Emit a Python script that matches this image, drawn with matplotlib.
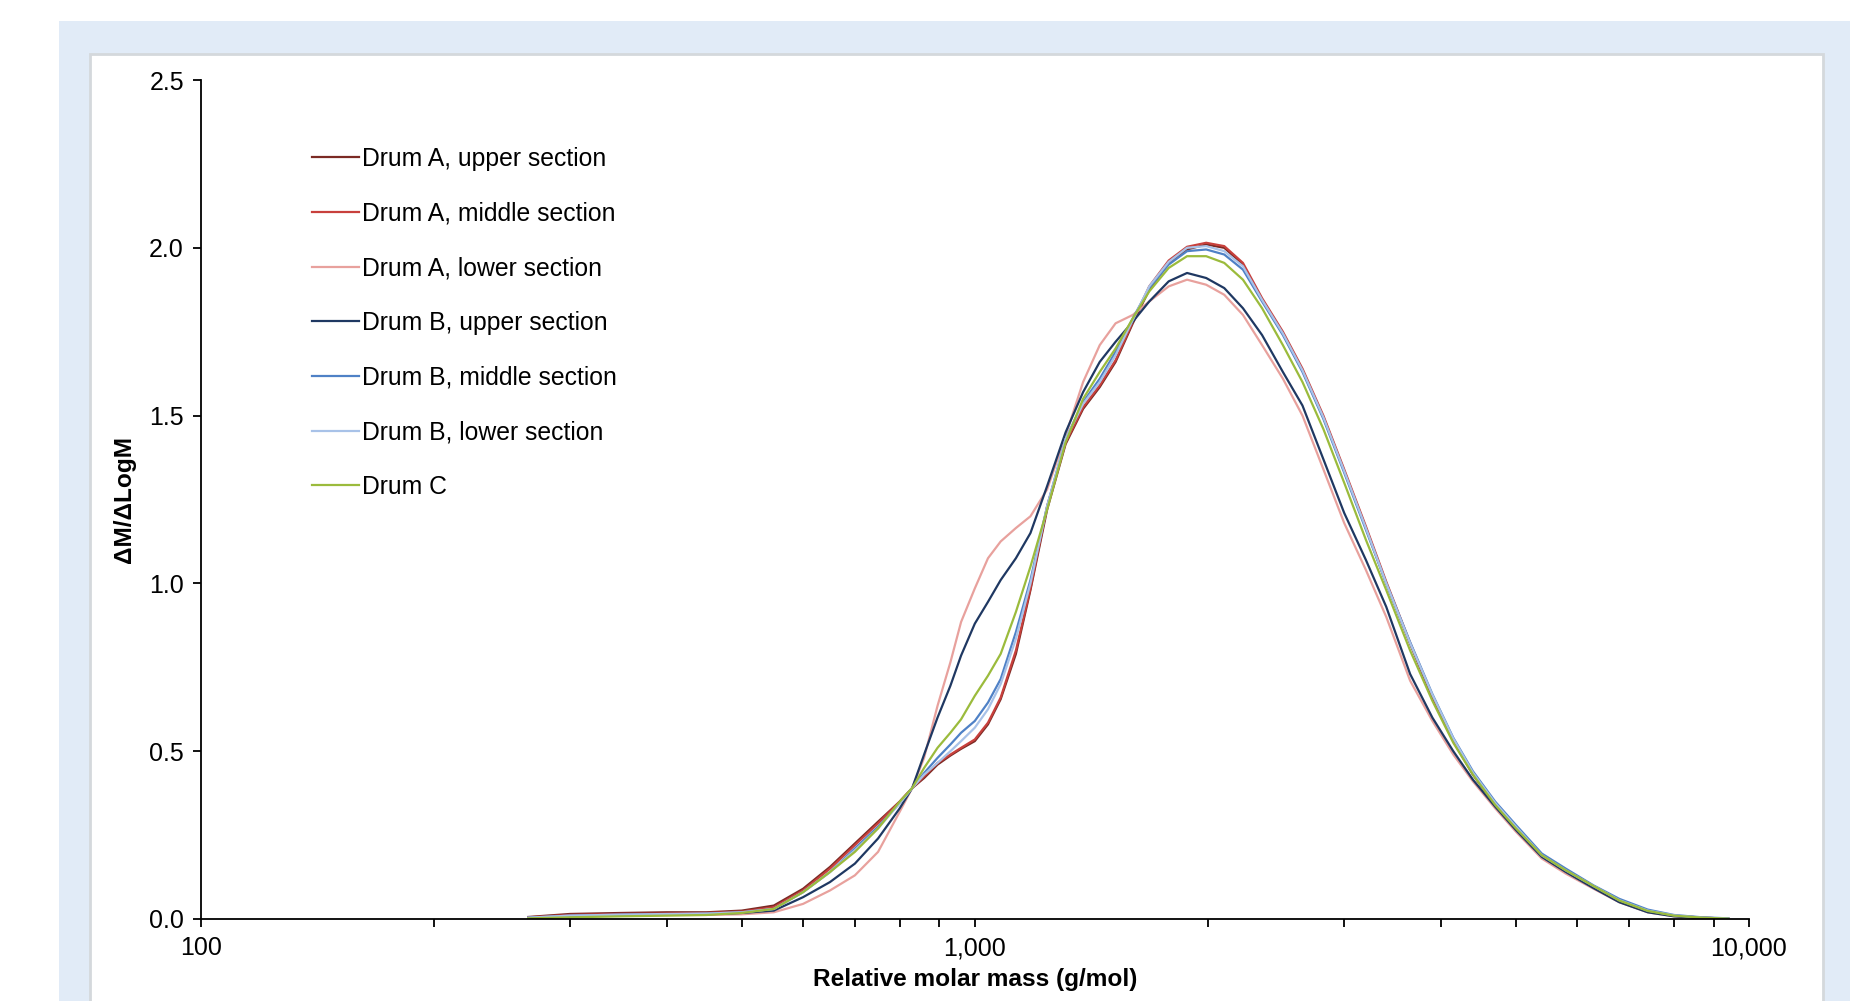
import matplotlib
matplotlib.use("Agg")
import matplotlib.pyplot as plt
from matplotlib.patches import Rectangle
from matplotlib.ticker import FixedLocator, NullFormatter

plt.rcParams['font.family'] = ['Liberation Sans', 'DejaVu Sans']

# -----------------------------
# Data
# -----------------------------
molar_mass = [265, 300, 350, 400, 450, 500, 550, 600, 650, 700,
              750, 800, 830, 860, 895, 930, 960, 1000, 1040, 1080,
              1130, 1180, 1240, 1310, 1380, 1450, 1520, 1600, 1680, 1780,
              1880, 1990, 2100, 2220, 2350, 2500, 2650, 2820, 3000, 3200,
              3400, 3650, 3900, 4150, 4400, 4700, 5000, 5400, 5800, 6300,
              6800, 7400, 8000, 8700, 9400]

drum_a_upper = [0.006, 0.015, 0.018, 0.020, 0.020, 0.025, 0.040, 0.090, 0.155, 0.225,
                0.290, 0.350, 0.390, 0.420, 0.460, 0.487, 0.507, 0.530, 0.580, 0.655,
                0.790, 0.980, 1.220, 1.415, 1.520, 1.585, 1.660, 1.775, 1.875, 1.955,
                1.995, 2.010, 2.000, 1.950, 1.845, 1.745, 1.635, 1.495, 1.335, 1.165,
                1.000, 0.820, 0.660, 0.530, 0.430, 0.340, 0.268, 0.183, 0.140, 0.095,
                0.052, 0.023, 0.010, 0.004, 0.001]

drum_a_middle = [0.005, 0.012, 0.015, 0.016, 0.018, 0.022, 0.035, 0.085, 0.150, 0.220,
                 0.285, 0.350, 0.390, 0.425, 0.465, 0.490, 0.510, 0.535, 0.585, 0.660,
                 0.800, 0.985, 1.230, 1.420, 1.525, 1.590, 1.665, 1.780, 1.885, 1.962,
                 2.003, 2.015, 2.005, 1.955, 1.850, 1.750, 1.640, 1.500, 1.340, 1.170,
                 1.005, 0.823, 0.665, 0.535, 0.432, 0.342, 0.270, 0.185, 0.140, 0.095,
                 0.052, 0.023, 0.010, 0.004, 0.001]

drum_a_lower = [0.003, 0.008, 0.010, 0.012, 0.012, 0.014, 0.020, 0.045, 0.085, 0.130,
                0.200, 0.320, 0.390, 0.480, 0.635, 0.765, 0.885, 0.985, 1.075, 1.125,
                1.165, 1.200, 1.280, 1.440, 1.600, 1.710, 1.775, 1.800, 1.840, 1.885,
                1.905, 1.890, 1.860, 1.800, 1.710, 1.610, 1.500, 1.340, 1.180, 1.040,
                0.900, 0.710, 0.590, 0.490, 0.410, 0.330, 0.260, 0.180, 0.135, 0.090,
                0.050, 0.020, 0.008, 0.003, 0.001]

drum_b_upper = [0.003, 0.008, 0.012, 0.013, 0.014, 0.018, 0.025, 0.065, 0.110, 0.165,
                0.240, 0.330, 0.390, 0.490, 0.600, 0.695, 0.785, 0.880, 0.945, 1.010,
                1.075, 1.150, 1.290, 1.450, 1.570, 1.660, 1.720, 1.780, 1.840, 1.900,
                1.925, 1.910, 1.880, 1.820, 1.740, 1.630, 1.530, 1.370, 1.210, 1.070,
                0.930, 0.730, 0.600, 0.500, 0.415, 0.335, 0.265, 0.185, 0.140, 0.092,
                0.050, 0.020, 0.008, 0.003, 0.001]

drum_b_middle = [0.004, 0.010, 0.013, 0.014, 0.016, 0.020, 0.030, 0.080, 0.140, 0.210,
                 0.275, 0.345, 0.390, 0.435, 0.480, 0.520, 0.555, 0.590, 0.645, 0.715,
                 0.855, 1.010, 1.230, 1.430, 1.540, 1.610, 1.690, 1.790, 1.880, 1.950,
                 1.990, 1.995, 1.980, 1.935, 1.840, 1.740, 1.630, 1.490, 1.330, 1.160,
                 1.000, 0.825, 0.670, 0.540, 0.440, 0.350, 0.280, 0.195, 0.150, 0.100,
                 0.060, 0.028, 0.012, 0.005, 0.002]

drum_b_lower = [0.004, 0.010, 0.013, 0.015, 0.016, 0.020, 0.030, 0.080, 0.140, 0.205,
                0.270, 0.345, 0.390, 0.430, 0.465, 0.500, 0.530, 0.570, 0.625, 0.700,
                0.835, 1.000, 1.230, 1.430, 1.535, 1.600, 1.680, 1.785, 1.885, 1.958,
                2.000, 2.005, 1.990, 1.945, 1.845, 1.745, 1.635, 1.495, 1.335, 1.165,
                1.000, 0.822, 0.668, 0.538, 0.436, 0.346, 0.275, 0.190, 0.145, 0.098,
                0.056, 0.025, 0.011, 0.004, 0.001]

drum_c = [0.002, 0.005, 0.008, 0.010, 0.012, 0.018, 0.030, 0.080, 0.140, 0.200,
          0.270, 0.350, 0.390, 0.450, 0.510, 0.555, 0.595, 0.665, 0.725, 0.790,
          0.915, 1.050, 1.220, 1.420, 1.550, 1.630, 1.700, 1.790, 1.870, 1.940,
          1.975, 1.975, 1.955, 1.905, 1.820, 1.710, 1.600, 1.460, 1.300, 1.130,
          0.980, 0.800, 0.650, 0.525, 0.430, 0.340, 0.270, 0.190, 0.145, 0.098,
          0.055, 0.024, 0.010, 0.004, 0.001]

series = [
    ("Drum A, upper section", drum_a_upper, "#7b2a24"),
    ("Drum A, middle section", drum_a_middle, "#c8403c"),
    ("Drum A, lower section", drum_a_lower, "#e8a19d"),
    ("Drum B, upper section", drum_b_upper, "#1f3862"),
    ("Drum B, middle section", drum_b_middle, "#4f81c6"),
    ("Drum B, lower section", drum_b_lower, "#a8c2e8"),
    ("Drum C", drum_c, "#9bbb3c"),
]

x_ticks = [100, 1000, 10000]
x_tick_labels = ["100", "1,000", "10,000"]
y_ticks = [0.0, 0.5, 1.0, 1.5, 2.0, 2.5]

# -----------------------------
# Figure + background panels
# -----------------------------
fig = plt.figure(figsize=(18.5, 10.01), dpi=100)
fig.patch.set_facecolor("white")
fig.patches.append(Rectangle((59 / 1850, 0), 1 - 59 / 1850, 1 - 21 / 1001,
                             transform=fig.transFigure, facecolor="#e1ebf7",
                             edgecolor="none", zorder=-2))
fig.patches.append(Rectangle((90 / 1850, -0.01), (1823 - 90) / 1850, 1 - 54 / 1001 + 0.01,
                             transform=fig.transFigure, facecolor="white",
                             edgecolor="#d4d8dc", linewidth=2, zorder=-1))

ax = fig.add_axes([200.6 / 1850, 1 - 919 / 1001, (1749 - 200.6) / 1850, (919 - 80) / 1001])
ax.set_facecolor("none")

for name, vals, col in series:
    ax.plot(molar_mass, vals, color=col, linewidth=1.6, label=name)

ax.set_xscale("log")
ax.set_xlim(100, 10000)
ax.set_ylim(0, 2.5)

ax.xaxis.set_major_locator(FixedLocator(x_ticks))
ax.set_xticklabels(x_tick_labels)
minor = [m * d for d in (100, 1000) for m in range(2, 10)]
ax.xaxis.set_minor_locator(FixedLocator(minor))
ax.xaxis.set_minor_formatter(NullFormatter())
ax.set_yticks(y_ticks)
ax.set_yticklabels([f"{v:.1f}" for v in y_ticks])

for s in ("top", "right"):
    ax.spines[s].set_visible(False)
for s in ("left", "bottom"):
    ax.spines[s].set_linewidth(1.3)
    ax.spines[s].set_color("black")

ax.tick_params(axis="both", which="both", direction="out", length=6, width=1.3,
               labelsize=18, colors="black")
ax.tick_params(axis="x", which="major", pad=6.5)
ax.tick_params(axis="y", which="major", pad=6)

ax.set_xlabel("Relative molar mass (g/mol)", fontsize=17.6, fontweight="bold", labelpad=5.5)
ax.set_ylabel("ΔM/ΔLogM", fontsize=17.6, fontweight="bold", labelpad=9.5)

ax.legend(loc="upper left", bbox_to_anchor=(0.0718, 0.92), frameon=False,
          fontsize=17.8, handlelength=1.9, handletextpad=0.15,
          labelspacing=1.24, borderpad=0, borderaxespad=0)

fig.savefig("out.png", dpi=100)
